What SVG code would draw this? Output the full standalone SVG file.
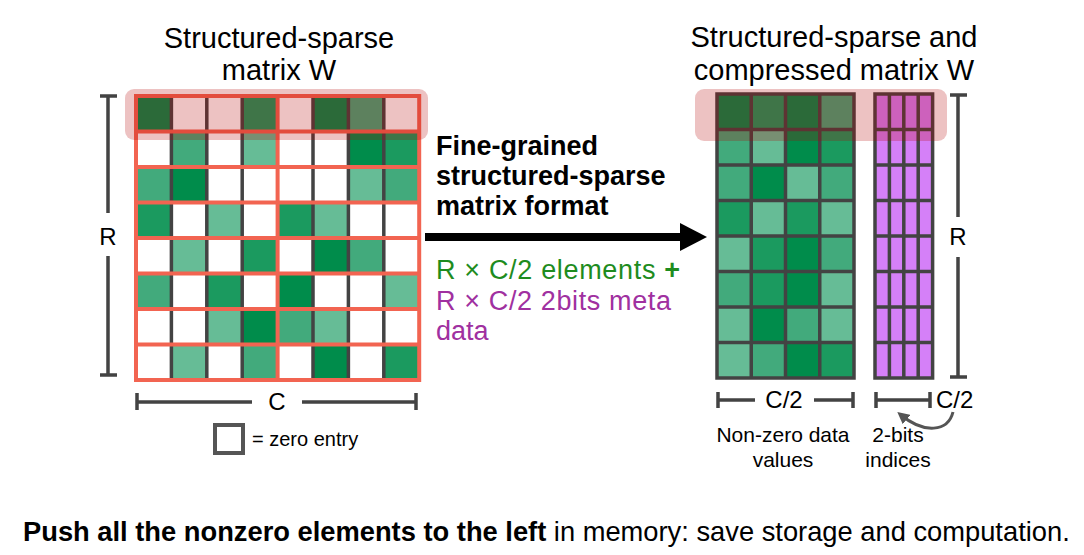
<svg xmlns="http://www.w3.org/2000/svg" width="1084" height="555" viewBox="0 0 1084 555">
<style>
text{font-family:"Liberation Sans",Arial,sans-serif;fill:#000}
.g1{fill:#008c4b}.g2{fill:#1b9a5f}.g3{fill:#42aa7c}.g4{fill:#66bc96}
.dk{stroke:#434343;stroke-width:3.5;fill:none}
.rd{stroke:#f26451;stroke-width:4;fill:none}
.br{stroke:#434343;stroke-width:3.5;fill:none}
.ov{fill:#b20000;fill-opacity:0.24}
.t29{font-size:29px;text-anchor:middle}
.t24{font-size:24px;text-anchor:middle}
.t20{font-size:21px;text-anchor:middle}
.b27{font-size:27px;font-weight:bold}
</style>
<defs>
<marker id="ah" viewBox="0 0 10 10" refX="6" refY="5" markerWidth="4" markerHeight="4" orient="auto">
<path d="M0,0 L10,5 L0,10 z" fill="#555"/>
</marker>
</defs>
<rect width="1084" height="555" fill="#fff"/>

<g id="title-left">
<text class="t29" x="279" y="48">Structured-sparse</text>
<text class="t29" x="279" y="80">matrix W</text>
</g>
<g id="title-right">
<text class="t29" x="834" y="47">Structured-sparse and</text>
<text class="t29" x="834" y="80">compressed matrix W</text>
</g>

<g id="matrix-left">
<rect x="136" y="96" width="283.2" height="284" fill="#fff"/>
<g>
<rect class="g1" x="136" y="96" width="35.4" height="35.5"/>
<rect class="g2" x="242.2" y="96" width="35.4" height="35.5"/>
<rect class="g1" x="313" y="96" width="35.4" height="35.5"/>
<rect class="g3" x="348.4" y="96" width="35.4" height="35.5"/>

<rect class="g3" x="171.4" y="131.5" width="35.4" height="35.5"/>
<rect class="g4" x="242.2" y="131.5" width="35.4" height="35.5"/>
<rect class="g1" x="348.4" y="131.5" width="35.4" height="35.5"/>
<rect class="g2" x="383.8" y="131.5" width="35.4" height="35.5"/>

<rect class="g3" x="136" y="167" width="35.4" height="35.5"/>
<rect class="g1" x="171.4" y="167" width="35.4" height="35.5"/>
<rect class="g4" x="348.4" y="167" width="35.4" height="35.5"/>
<rect class="g3" x="383.8" y="167" width="35.4" height="35.5"/>

<rect class="g2" x="136" y="202.5" width="35.4" height="35.5"/>
<rect class="g4" x="206.8" y="202.5" width="35.4" height="35.5"/>
<rect class="g2" x="277.6" y="202.5" width="35.4" height="35.5"/>
<rect class="g4" x="313" y="202.5" width="35.4" height="35.5"/>

<rect class="g4" x="171.4" y="238" width="35.4" height="35.5"/>
<rect class="g2" x="242.2" y="238" width="35.4" height="35.5"/>
<rect class="g1" x="313" y="238" width="35.4" height="35.5"/>
<rect class="g3" x="348.4" y="238" width="35.4" height="35.5"/>

<rect class="g3" x="136" y="273.5" width="35.4" height="35.5"/>
<rect class="g2" x="206.8" y="273.5" width="35.4" height="35.5"/>
<rect class="g1" x="277.6" y="273.5" width="35.4" height="35.5"/>
<rect class="g4" x="383.8" y="273.5" width="35.4" height="35.5"/>

<rect class="g4" x="206.8" y="309" width="35.4" height="35.5"/>
<rect class="g1" x="242.2" y="309" width="35.4" height="35.5"/>
<rect class="g3" x="277.6" y="309" width="35.4" height="35.5"/>
<rect class="g4" x="313" y="309" width="35.4" height="35.5"/>

<rect class="g4" x="171.4" y="344.5" width="35.4" height="35.5"/>
<rect class="g3" x="242.2" y="344.5" width="35.4" height="35.5"/>
<rect class="g1" x="313" y="344.5" width="35.4" height="35.5"/>
<rect class="g2" x="383.8" y="344.5" width="35.4" height="35.5"/>
</g>
<path class="dk" d="M171.4,96V380M206.8,96V380M242.2,96V380M313,96V380M348.4,96V380M383.8,96V380"/>
<path class="rd" d="M136,131.5H419.2M136,167H419.2M136,202.5H419.2M136,238H419.2M136,273.5H419.2M136,309H419.2M136,344.5H419.2M277.6,96V380"/>
<rect class="rd" x="136" y="96" width="283.2" height="284"/>
<rect class="ov" x="125" y="89" width="303" height="51" rx="9"/>
</g>

<g id="bracket-R-left">
<path class="br" d="M108,96V213M108,256V375M100,96H117M100,375H117"/>
<text class="t24" x="108" y="245">R</text>
</g>
<g id="bracket-C-left">
<path class="br" d="M137,402H252M302,402H416M137,393V410M416,393V410"/>
<text class="t24" x="277" y="410">C</text>
</g>
<g id="legend-zero">
<rect x="215" y="425" width="28" height="28" fill="#fff" stroke="#555" stroke-width="4"/>
<text x="252" y="446" font-size="20">= zero entry</text>
</g>

<g id="transform-label">
<text class="b27" x="436" y="155">Fine-grained</text>
<text class="b27" x="436" y="185">structured-sparse</text>
<text class="b27" x="436" y="215">matrix format</text>
<text x="436" y="279" font-size="27" textLength="244" style="fill:#1e8c1e">R × C/2 elements <tspan font-weight="bold">+</tspan></text>
<text x="436" y="310" font-size="27" textLength="235" style="fill:#a030a0">R × C/2 2bits meta</text>
<text x="436" y="340" font-size="27" style="fill:#a030a0">data</text>
</g>

<g id="connectors">
<line x1="425" y1="237" x2="682" y2="237" stroke="#000" stroke-width="8"/>
<polygon points="680,223 707,237 680,251" fill="#000"/>
<path d="M953,412 C948,432 924,434 901,415" fill="none" stroke="#555" stroke-width="3" marker-end="url(#ah)"/>
</g>

<g id="matrix-values">
<rect class="g1" x="717" y="94" width="34.25" height="35.5"/>
<rect class="g2" x="751.25" y="94" width="34.25" height="35.5"/>
<rect class="g1" x="785.5" y="94" width="34.25" height="35.5"/>
<rect class="g3" x="819.75" y="94" width="34.25" height="35.5"/>

<rect class="g3" x="717" y="129.5" width="34.25" height="35.5"/>
<rect class="g4" x="751.25" y="129.5" width="34.25" height="35.5"/>
<rect class="g1" x="785.5" y="129.5" width="34.25" height="35.5"/>
<rect class="g2" x="819.75" y="129.5" width="34.25" height="35.5"/>

<rect class="g3" x="717" y="165" width="34.25" height="35.5"/>
<rect class="g1" x="751.25" y="165" width="34.25" height="35.5"/>
<rect class="g4" x="785.5" y="165" width="34.25" height="35.5"/>
<rect class="g3" x="819.75" y="165" width="34.25" height="35.5"/>

<rect class="g2" x="717" y="200.5" width="34.25" height="35.5"/>
<rect class="g4" x="751.25" y="200.5" width="34.25" height="35.5"/>
<rect class="g2" x="785.5" y="200.5" width="34.25" height="35.5"/>
<rect class="g4" x="819.75" y="200.5" width="34.25" height="35.5"/>

<rect class="g4" x="717" y="236" width="34.25" height="35.5"/>
<rect class="g2" x="751.25" y="236" width="34.25" height="35.5"/>
<rect class="g1" x="785.5" y="236" width="34.25" height="35.5"/>
<rect class="g3" x="819.75" y="236" width="34.25" height="35.5"/>

<rect class="g3" x="717" y="271.5" width="34.25" height="35.5"/>
<rect class="g2" x="751.25" y="271.5" width="34.25" height="35.5"/>
<rect class="g1" x="785.5" y="271.5" width="34.25" height="35.5"/>
<rect class="g4" x="819.75" y="271.5" width="34.25" height="35.5"/>

<rect class="g4" x="717" y="307" width="34.25" height="35.5"/>
<rect class="g1" x="751.25" y="307" width="34.25" height="35.5"/>
<rect class="g3" x="785.5" y="307" width="34.25" height="35.5"/>
<rect class="g4" x="819.75" y="307" width="34.25" height="35.5"/>

<rect class="g4" x="717" y="342.5" width="34.25" height="35.5"/>
<rect class="g3" x="751.25" y="342.5" width="34.25" height="35.5"/>
<rect class="g1" x="785.5" y="342.5" width="34.25" height="35.5"/>
<rect class="g2" x="819.75" y="342.5" width="34.25" height="35.5"/>
<path class="dk" d="M751.25,94V378M785.5,94V378M819.75,94V378M717,129.5H854M717,165H854M717,200.5H854M717,236H854M717,271.5H854M717,307H854M717,342.5H854"/>
<rect class="dk" x="717" y="94" width="137" height="284"/>
</g>

<g id="matrix-indices">
<rect x="875" y="94" width="57.6" height="284" fill="#d580f8"/>
<path class="dk" d="M889.4,94V378M903.8,94V378M918.2,94V378M875,129.5H932.6M875,165H932.6M875,200.5H932.6M875,236H932.6M875,271.5H932.6M875,307H932.6M875,342.5H932.6"/>
<rect class="dk" x="875" y="94" width="57.6" height="284"/>
</g>

<g id="highlight-right">
<rect class="ov" x="695" y="89" width="252" height="52" rx="9"/>
</g>

<g id="bracket-R-right">
<path class="br" d="M958,95V217M958,257V377M950,95H967M950,377H967"/>
<text class="t24" x="958" y="245">R</text>
</g>
<g id="bracket-C2-values">
<path class="br" d="M718,400H755M814,400H853M718,392V408M853,392V408"/>
<text class="t24" x="784" y="408">C/2</text>
</g>
<g id="bracket-C2-indices">
<path class="br" d="M876,400H930M876,392V408M930,392V408"/>
<text x="936" y="408" font-size="24">C/2</text>
</g>

<g id="labels-bottom">
<text class="t20" x="783" y="442">Non-zero data</text>
<text class="t20" x="783" y="467">values</text>
<text class="t20" x="898" y="442">2-bits</text>
<text class="t20" x="898" y="467">indices</text>
</g>

<g id="caption">
<text x="23" y="541" font-size="27.3"><tspan font-weight="bold">Push all the nonzero elements to the left</tspan> in memory: save storage and computation.</text>
</g>
</svg>
